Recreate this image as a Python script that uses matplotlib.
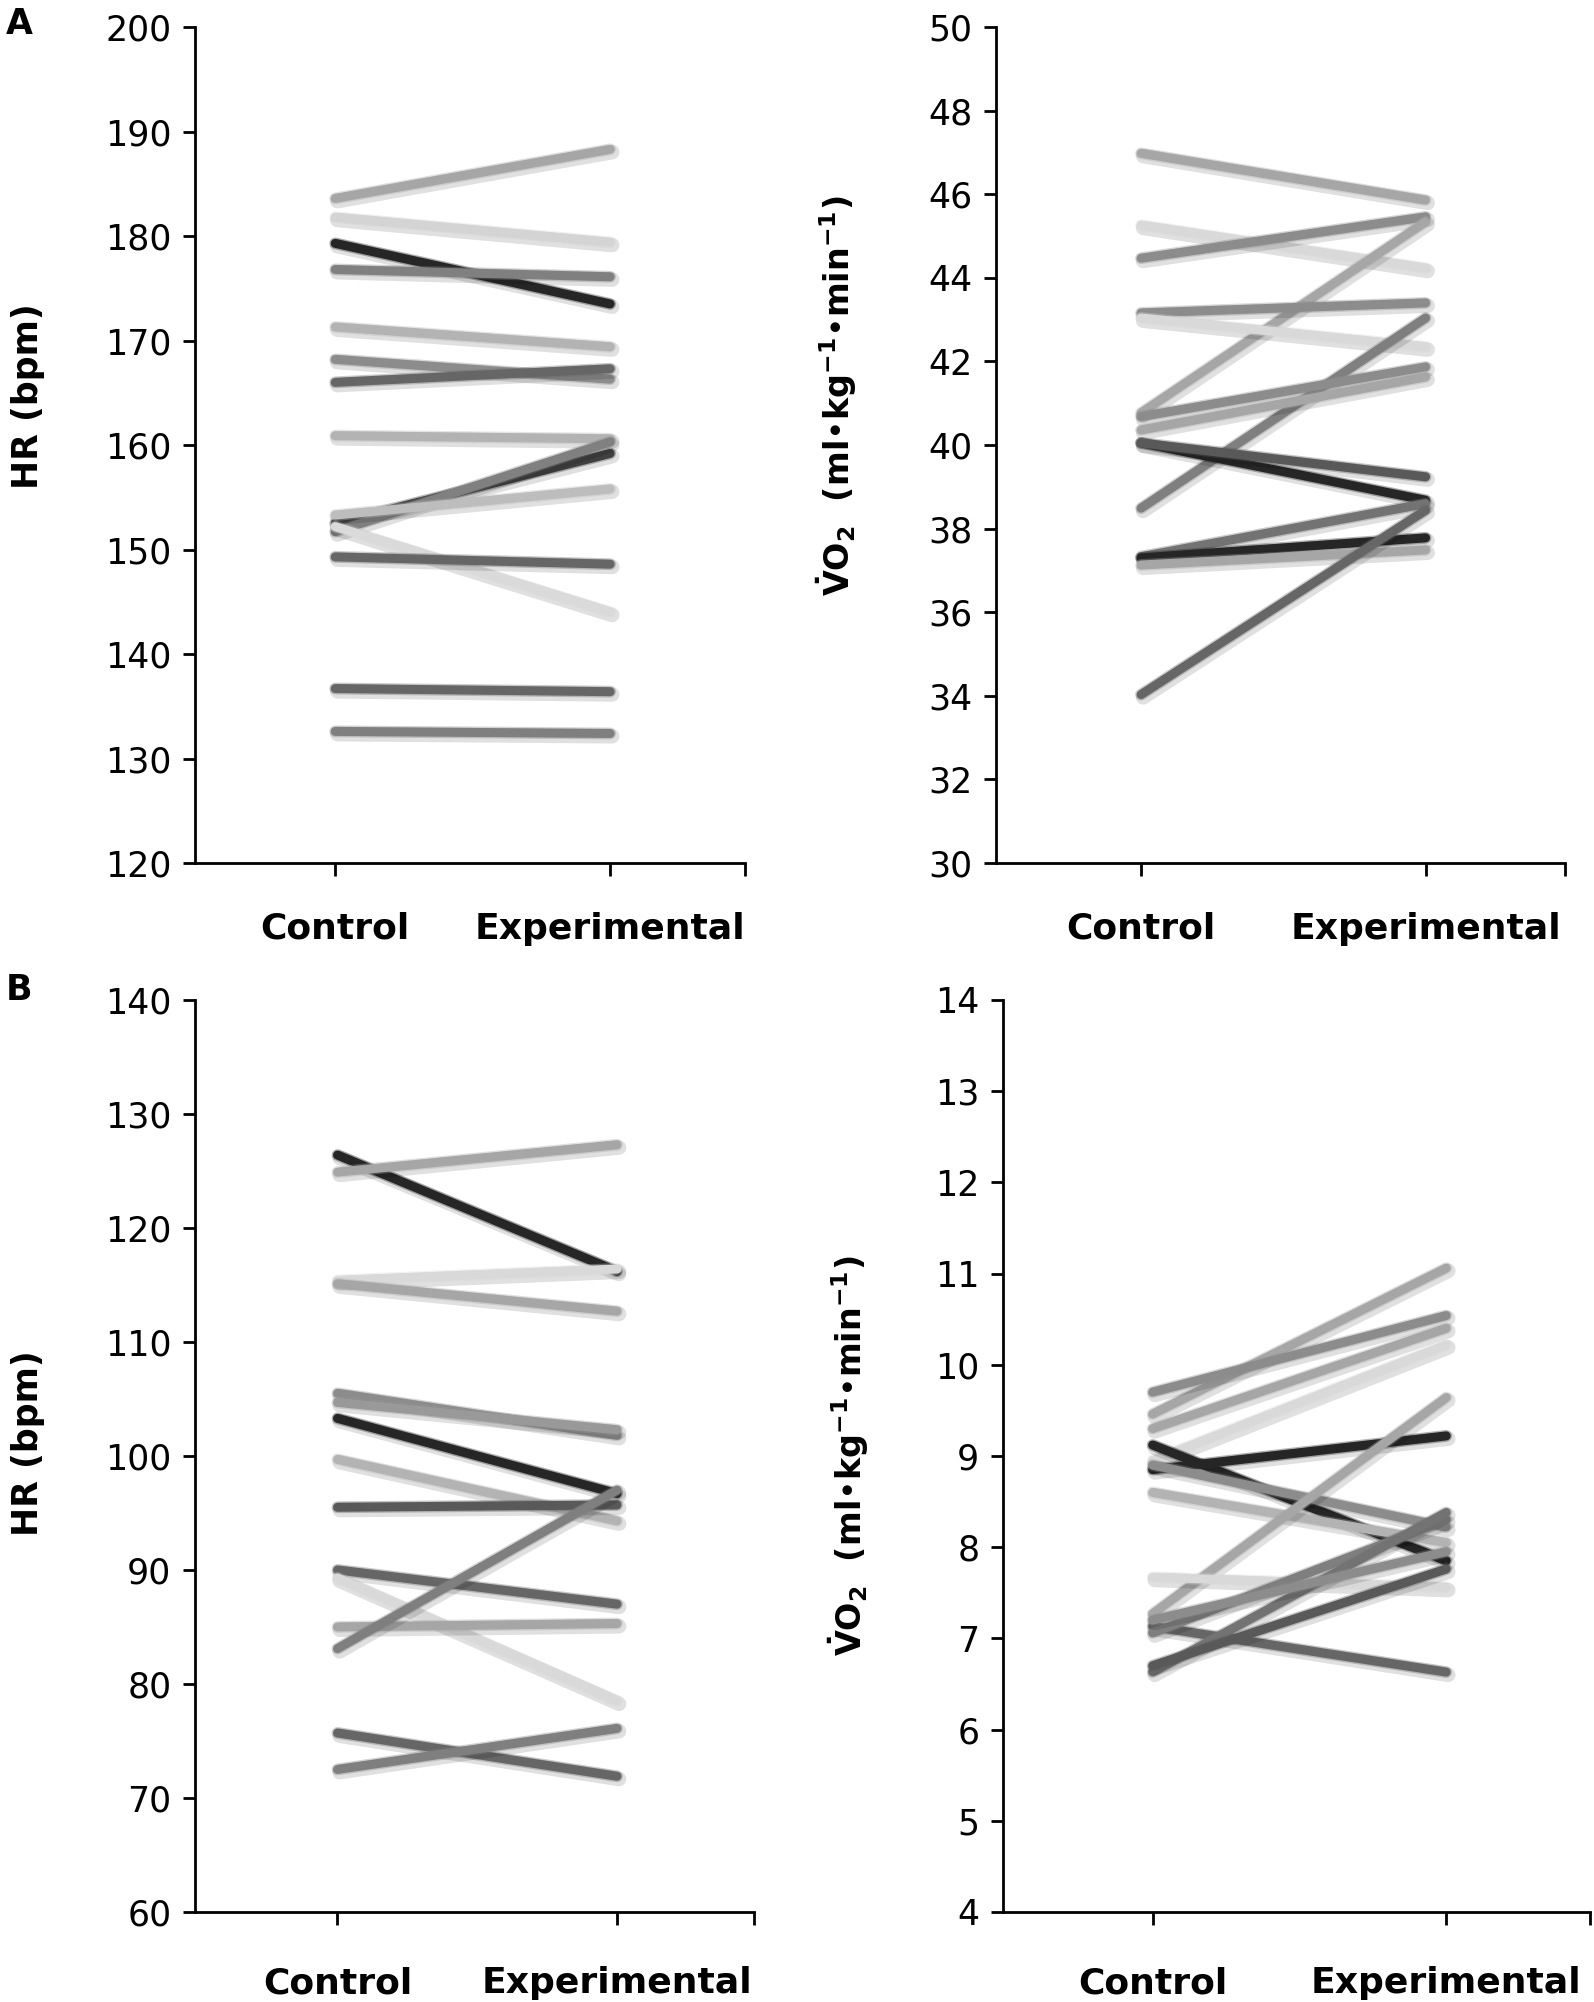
import matplotlib
matplotlib.use("Agg")
import matplotlib.pyplot as plt
import matplotlib.patheffects as pe

plt.rcParams["font.family"] = ["DejaVu Sans"]
plt.rcParams["mathtext.fontset"] = "dejavusans"

groups = ["Control", "Experimental"]

# panel A, heart rate (bpm)
hr_a_control = [183.6, 181.8, 179.3, 176.8, 171.3, 168.2, 166.0, 160.9, 152.5, 151.7, 153.3, 152.2, 149.3, 136.7, 132.6]
hr_a_exper = [188.3, 179.4, 173.5, 176.1, 169.4, 166.3, 167.3, 160.6, 159.2, 160.3, 155.8, 144.0, 148.6, 136.4, 132.4]
hr_a_colors = ["#a6a6a6", "#d4d4d4", "#262626", "#808080", "#b3b3b3", "#8c8c8c", "#666666", "#b3b3b3",
               "#404040", "#808080", "#bdbdbd", "#dadada", "#666666", "#666666", "#7f7f7f"]

# panel A, VO2 (ml/kg/min)
vo2_a_control = [46.98, 45.26, 44.47, 40.77, 43.16, 43.04, 38.49, 40.68, 40.36, 40.05, 40.05, 37.33, 37.30, 37.13, 34.03]
vo2_a_exper = [45.86, 44.23, 45.46, 45.34, 43.40, 42.35, 43.04, 41.87, 41.63, 38.68, 39.24, 38.60, 37.78, 37.49, 38.44]
vo2_a_colors = ["#a6a6a6", "#d9d9d9", "#8c8c8c", "#a6a6a6", "#8c8c8c", "#d9d9d9", "#7f7f7f", "#8c8c8c",
                "#a6a6a6", "#262626", "#595959", "#737373", "#262626", "#a6a6a6", "#666666"]

# panel B, heart rate (bpm)
hr_b_control = [126.4, 124.9, 115.4, 115.1, 105.5, 104.7, 103.3, 99.7, 95.5, 90.0, 89.3, 85.0, 83.1, 75.7, 72.5]
hr_b_exper = [116.2, 127.3, 116.4, 112.7, 101.8, 102.3, 96.7, 94.3, 95.7, 87.0, 78.5, 85.3, 97.0, 71.9, 76.1]
hr_b_colors = ["#262626", "#a6a6a6", "#d9d9d9", "#a6a6a6", "#8c8c8c", "#999999", "#262626", "#b3b3b3",
               "#595959", "#666666", "#d9d9d9", "#a6a6a6", "#7f7f7f", "#666666", "#7f7f7f"]

# panel B, VO2 (ml/kg/min)
vo2_b_control = [9.46, 9.70, 9.30, 8.95, 9.12, 8.85, 8.90, 8.60, 7.27, 7.67, 7.13, 7.06, 6.63, 6.70, 7.20]
vo2_b_exper = [11.06, 10.54, 10.40, 10.22, 7.85, 9.22, 8.22, 8.05, 9.64, 7.56, 6.63, 8.30, 8.38, 7.76, 7.95]
vo2_b_colors = ["#a6a6a6", "#8c8c8c", "#a6a6a6", "#d9d9d9", "#262626", "#262626", "#8c8c8c", "#b3b3b3",
                "#a6a6a6", "#d9d9d9", "#666666", "#7f7f7f", "#737373", "#595959", "#8c8c8c"]

hr_label = "HR (bpm)"
vo2_label = r"$\mathbf{\dot{V}O_2}$  (ml•kg$^{\mathbf{-1}}$•min$^{\mathbf{-1}}$)"

LW = 6.5


def draw_panel(ax, control, exper, colors, ylim, yticks, label_pad):
    for c, e, col in zip(control, exper, colors):
        ax.plot([0, 1], [c, e], color=col, lw=LW, solid_capstyle="round",
                path_effects=[pe.SimpleLineShadow(offset=(1.5, -2), shadow_color="#000000", alpha=0.12, linewidth=LW + 4),
                              pe.Stroke(linewidth=LW + 2, foreground=col, alpha=0.35),
                              pe.Normal()])
    ax.set_xlim(-0.51, 1.49)
    ax.set_ylim(*ylim)
    ax.set_yticks(yticks)
    ax.set_xticks([0, 1, 1.49])
    ax.set_xticklabels(groups + [""], fontsize=26, fontweight="bold")
    ax.tick_params(axis="x", length=9, width=2, pad=label_pad)
    ax.tick_params(axis="y", length=9, width=2, pad=8, labelsize=25)
    ax.spines["top"].set_visible(False)
    ax.spines["right"].set_visible(False)
    for s in ["left", "bottom"]:
        ax.spines[s].set_linewidth(2)
    ax.patch.set_alpha(0)


fig = plt.figure(figsize=(15.94, 20.02), dpi=100)

ax1 = fig.add_axes([0.1223, 0.5689, 0.3450, 0.4176])
draw_panel(ax1, hr_a_control, hr_a_exper, hr_a_colors, (120, 200), range(120, 201, 10), 26)

ax2 = fig.add_axes([0.6248, 0.5689, 0.3570, 0.4176])
draw_panel(ax2, vo2_a_control, vo2_a_exper, vo2_a_colors, (30, 50), range(30, 51, 2), 26)

ax3 = fig.add_axes([0.1223, 0.0450, 0.3507, 0.4555])
draw_panel(ax3, hr_b_control, hr_b_exper, hr_b_colors, (60, 140), range(60, 141, 10), 30)

ax4 = fig.add_axes([0.6292, 0.0450, 0.3683, 0.4555])
draw_panel(ax4, vo2_b_control, vo2_b_exper, vo2_b_colors, (4, 14), range(4, 15, 1), 30)

fig.text(28 / 1594, 1 - 396 / 2002, hr_label, rotation=90, ha="center", va="center", fontsize=25, fontweight="bold")
fig.text(837 / 1594, 1 - 396 / 2002, vo2_label, rotation=90, ha="center", va="center", fontsize=24, fontweight="bold")
fig.text(28 / 1594, 1 - 1443 / 2002, hr_label, rotation=90, ha="center", va="center", fontsize=25, fontweight="bold")
fig.text(849 / 1594, 1 - 1456 / 2002, vo2_label, rotation=90, ha="center", va="center", fontsize=24, fontweight="bold")

fig.text(19 / 1594, 1 - 24 / 2002, "A", ha="center", va="center", fontsize=25, fontweight="bold")
fig.text(19 / 1594, 1 - 990 / 2002, "B", ha="center", va="center", fontsize=25, fontweight="bold")

fig.savefig("out.png", dpi=100, facecolor="white")
